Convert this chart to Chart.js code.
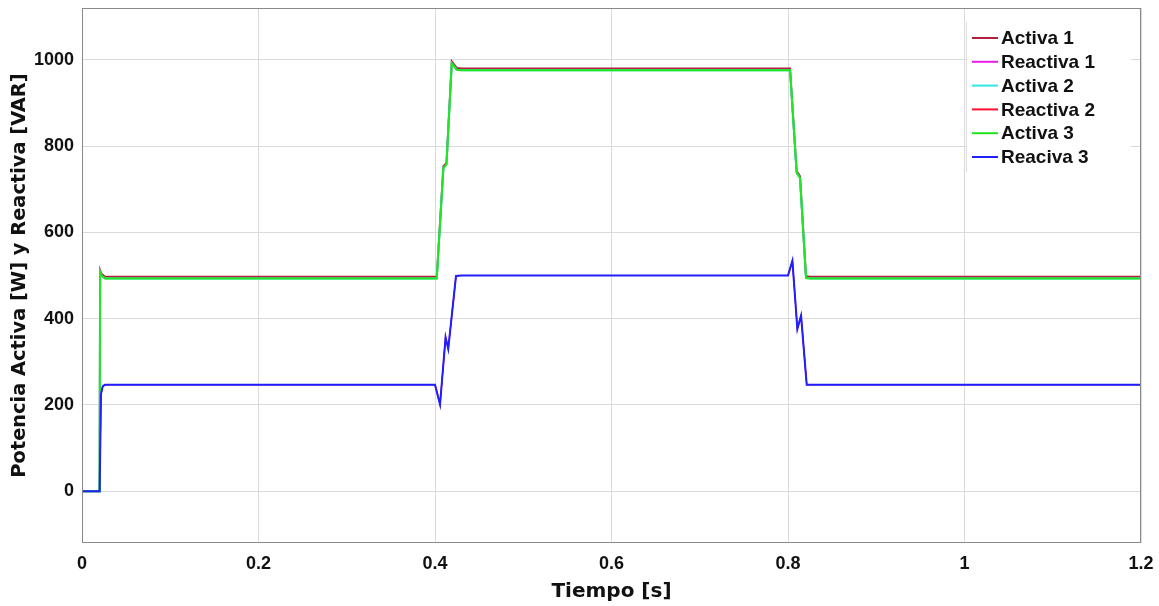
<!DOCTYPE html>
<html lang="es">
<head>
    <meta charset="UTF-8">
    <title>Potencia Activa y Reactiva</title>
    <script src="https://cdn.jsdelivr.net/npm/chart.js"></script>
    <style>
        html, body { margin: 0; padding: 0; background: #fff; }
        #wrap { width: 1159px; height: 606px; }
    </style>
</head>
<body>
<div id="wrap"><canvas id="potChart" width="1159" height="606"></canvas></div>
<script>
// tick labels
const xTicks = [0, 0.2, 0.4, 0.6, 0.8, 1, 1.2];
const yTicks = [0, 200, 400, 600, 800, 1000];

// series names and colors
const seriesNames = ['Activa 1', 'Reactiva 1', 'Activa 2', 'Reactiva 2', 'Activa 3', 'Reaciva 3'];
const seriesColors = ['#b0203c', '#e61fe6', '#33e6e0', '#ff1030', '#1fe61f', '#1f1fff'];

// active power (W)
const tActive = [0, 0.020, 0.0205, 0.022, 0.026, 0.400, 0.402, 0.4095, 0.413, 0.419, 0.4246, 0.430, 0.8023, 0.8098, 0.8136, 0.8204, 0.825, 1.2];
const pActive = [0, 0, 508, 500, 493, 493, 493, 749, 757, 992, 977, 976, 976, 738, 726, 494, 493, 493];
// first active trace sits a few W higher (red edge visible above green)
const pActive1 = [0, 0, 512, 504, 497, 497, 497, 753, 761, 996, 981, 980, 980, 742, 730, 498, 497, 497];

// reactive power (VAR)
const tReactive = [0, 0.020, 0.0215, 0.0235, 0.026, 0.400, 0.4057, 0.412, 0.415, 0.4238, 0.430, 0.800, 0.805, 0.8106, 0.8148, 0.8212, 0.825, 1.2];
const qReactive = [0, 0, 225, 243, 247, 247, 201, 357, 330, 499, 500, 500, 534, 376, 407, 247, 247, 247];

function pts(t, v) {
  return t.map((x, i) => ({ x: x, y: v[i] }));
}

const seriesData = [
  pts(tActive, pActive1),
  pts(tReactive, qReactive),
  pts(tActive, pActive),
  pts(tReactive, qReactive),
  pts(tActive, pActive),
  pts(tReactive, qReactive)
];

const datasets = seriesNames.map((name, i) => ({
  label: name,
  data: seriesData[i],
  borderColor: seriesColors[i],
  backgroundColor: seriesColors[i],
  borderWidth: (i === 1 || i === 3) ? 1.2 : 2,
  pointRadius: 0,
  tension: 0,
  fill: false,
  order: seriesNames.length - i   // later series drawn on top, like matlab
}));

// frame round the plot area
const framePlugin = {
  id: 'frame',
  afterDatasetsDraw(chart) {
    const a = chart.chartArea, ctx = chart.ctx;
    ctx.save();
    ctx.strokeStyle = '#8a8a8a';
    ctx.lineWidth = 1;
    ctx.strokeRect(a.left + 0.5, a.top + 0.5, a.right - a.left - 1, a.bottom - a.top - 1);
    ctx.restore();
  }
};

// legend box in the upper right corner
const boxLegend = {
  id: 'boxLegend',
  afterDraw(chart) {
    const ctx = chart.ctx, a = chart.chartArea;
    const x0 = a.right - 175, y0 = 22;
    ctx.save();
    ctx.fillStyle = '#fff';
    ctx.fillRect(x0, y0, 165, 150);
    ctx.strokeStyle = '#dedede';
    ctx.lineWidth = 1;
    ctx.beginPath();
    ctx.moveTo(x0 + 0.5, y0);
    ctx.lineTo(x0 + 0.5, y0 + 150);
    ctx.stroke();
    ctx.font = 'bold 19px "Liberation Sans", Arial, sans-serif';
    ctx.textBaseline = 'middle';
    ctx.textAlign = 'left';
    seriesNames.forEach((name, i) => {
      const y = 38 + i * 23.8;
      ctx.strokeStyle = seriesColors[i];
      ctx.lineWidth = 2;
      ctx.beginPath();
      ctx.moveTo(x0 + 6, y);
      ctx.lineTo(x0 + 32, y);
      ctx.stroke();
      ctx.fillStyle = '#111';
      ctx.fillText(name, x0 + 35, y + 1);
    });
    ctx.restore();
  }
};

const tickFont = { family: '"Liberation Sans", Arial, sans-serif', size: 18, weight: 'bold' };
const xTitleFont = { family: '"DejaVu Sans", sans-serif', size: 20, weight: 'bold' };
const yTitleFont = { family: '"DejaVu Sans", sans-serif', size: 19.4, weight: 'bold' };

new Chart(document.getElementById('potChart'), {
  type: 'line',
  data: { datasets: datasets },
  plugins: [framePlugin, boxLegend],
  options: {
    responsive: false,
    animation: false,
    parsing: false,
    layout: { padding: { top: 8, right: 18, left: 0, bottom: 0 } },
    plugins: { legend: { display: false }, tooltip: { enabled: false } },
    scales: {
      x: {
        type: 'linear',
        min: 0,
        max: 1.2,
        afterBuildTicks(scale) { scale.ticks = xTicks.map(v => ({ value: v })); },
        afterFit(scale) {
          scale.height = 63;
          scale.paddingLeft = 0;
          scale.paddingRight = 0;
        },
        ticks: {
          color: '#111',
          font: tickFont,
          padding: 10,
          maxRotation: 0,
          callback: v => String(v)
        },
        grid: { color: '#dadada', drawTicks: false },
        border: { display: false },
        title: { display: true, text: 'Tiempo [s]', color: '#111', font: xTitleFont, padding: { top: 0, bottom: 2 } }
      },
      y: {
        type: 'linear',
        min: -120,
        max: 1120,
        afterBuildTicks(scale) { scale.ticks = yTicks.map(v => ({ value: v })); },
        afterFit(scale) {
          scale.width = 82;
          scale.paddingTop = 0;
          scale.paddingBottom = 0;
        },
        ticks: {
          color: '#111',
          font: tickFont,
          padding: 8,
          callback: v => String(v)
        },
        grid: { color: '#dadada', drawTicks: false },
        border: { display: false },
        title: { display: true, text: 'Potencia Activa [W] y Reactiva [VAR]', color: '#111', font: yTitleFont, padding: { top: 8, bottom: 8 } }
      }
    }
  }
});
</script>
</body>
</html>
